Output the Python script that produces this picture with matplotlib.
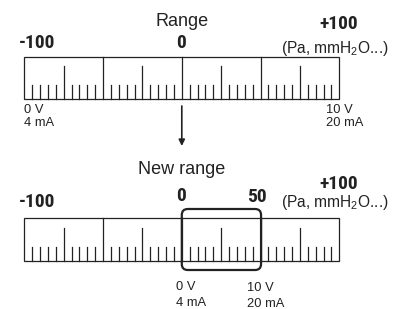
import matplotlib
matplotlib.use("Agg")
import matplotlib.pyplot as plt
from matplotlib.patches import Rectangle, FancyBboxPatch
import numpy as np

plt.rcParams['font.family'] = ['Liberation Sans', 'DejaVu Sans']
plt.rcParams['mathtext.fontset'] = 'custom'
plt.rcParams['mathtext.rm'] = 'Liberation Sans'

# data
scale_min, scale_max = -100, 100
major_step = 50
minor_step = 5
mid_ticks = [-75, -25, 25, 75]
new_min, new_max = 0, 50
unit_label = "(Pa, mmH$\\mathregular{_2}$O...)"

fig = plt.figure(figsize=(4.07, 3.09), dpi=100)
ax = fig.add_axes([0, 0, 1, 1])
ux = 200 / 315.0
ax.set_xlim(-100 - 24.3 * ux, 100 + (407 - 339.3) * ux)
ax.set_ylim(309, 0)
ax.axis('off')

col = '#222222'
BOLD = dict(family=['Liberation Sans Narrow', 'Roboto Condensed', 'Archivo Narrow', 'Liberation Sans'],
            fontweight='bold', fontsize=14, color=col, ha='center', va='center')
REG = dict(fontsize=13, color=col, ha='center', va='center')
UNIT = dict(fontsize=11.2, color=col, ha='center', va='center')
SMALL = dict(fontsize=9.3, color=col, ha='left', va='center')

def scale(y_top, y_bot):
    ax.add_patch(Rectangle((scale_min, y_top), scale_max - scale_min, y_bot - y_top,
                           fill=False, ec=col, lw=0.9))
    for v in np.arange(scale_min, scale_max + 1, minor_step):
        if v % major_step == 0:
            continue
        if v in mid_ticks:
            ax.plot([v, v], [y_bot - 33, y_bot], color=col, lw=0.9)
        else:
            ax.plot([v, v], [y_bot - 14.5, y_bot], color=col, lw=0.9)
    for v in np.arange(scale_min + major_step, scale_max, major_step):
        ax.plot([v, v], [y_top, y_bot], color=col, lw=0.9)

# top
ax.text(0, 21, "Range", **REG)
ax.text(-100 + 12.9 * ux, 43.5, "-100", **BOLD)
ax.text(-1 * ux, 43.5, "0", **BOLD)
ax.text(100 - 0.6 * ux, 24, "+100", **BOLD)
ax.text(100 - 4.3 * ux, 48, unit_label, **UNIT)
scale(57.3, 99.3)
ax.text(scale_min, 110, "0 V", **SMALL)
ax.text(scale_min, 122.5, "4 mA", **SMALL)
ax.text(100 - 13 * ux, 110, "10 V", **SMALL)
ax.text(100 - 13 * ux, 122.5, "20 mA", **SMALL)

ax.annotate("", xy=(0, 146), xytext=(0, 106),
            arrowprops=dict(arrowstyle='-|>', color=col, lw=1.2, mutation_scale=9,
                            shrinkA=0, shrinkB=0))

# bottom
ax.text(0, 169, "New range", **REG)
ax.text(-100 + 12.9 * ux, 202, "-100", **BOLD)
ax.text(-1 * ux, 196, "0", **BOLD)
ax.text(new_max - 4 * ux, 197.5, "50", **BOLD)
ax.text(100 - 0.6 * ux, 184, "+100", **BOLD)
ax.text(100 - 4.3 * ux, 203, unit_label, **UNIT)
scale(218.3, 261)
r = 6 * ux
ax.add_patch(FancyBboxPatch((new_min, 209), new_max - new_min + 0.5 * ux, 270 - 209,
                            boxstyle=f"round,pad=0,rounding_size={r}",
                            mutation_aspect=1 / ux, fill=False, ec=col, lw=1.6))
ax.text(new_min - 6 * ux, 286.5, "0 V", **SMALL)
ax.text(new_min - 6 * ux, 302.5, "4 mA", **SMALL)
ax.text(new_max - 14 * ux, 288, "10 V", **SMALL)
ax.text(new_max - 14 * ux, 304, "20 mA", **SMALL)

fig.savefig("out.png", dpi=100, facecolor='white')
